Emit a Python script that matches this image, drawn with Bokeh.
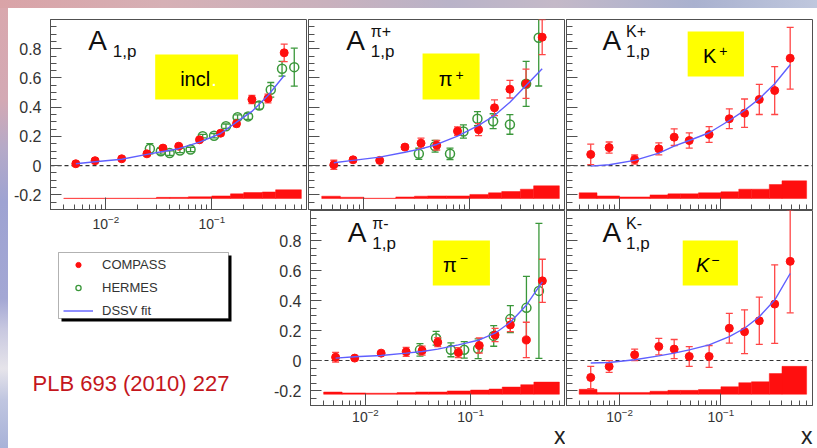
from bokeh.plotting import figure
from bokeh.layouts import row, column
from bokeh.models import (Range1d, LinearScale, LogTicker, FixedTicker,
                          CustomJSTickFormatter, Span, Label, BoxAnnotation,
                          Legend, LegendItem, Div, Title)
from bokeh.embed import file_html
from bokeh.resources import INLINE
import math

# ---------------- data ----------------
# COMPASS x bins (mean x) and the bin edges used for the systematic bands
x_compass = [0.0052, 0.0079, 0.0141, 0.0244, 0.0346, 0.0487, 0.0765, 0.121, 0.171, 0.239, 0.339, 0.482]
syst_edges = [0.004, 0.006, 0.01, 0.02, 0.03, 0.04, 0.06, 0.1, 0.15, 0.2, 0.3, 0.4, 0.7]
# HERMES x values
x_hermes_incl = [0.026, 0.033, 0.040, 0.050, 0.063, 0.082, 0.105, 0.136, 0.175, 0.22, 0.28, 0.36, 0.46, 0.60]
x_hermes_sidis = [0.033, 0.047, 0.065, 0.087, 0.118, 0.166, 0.239, 0.34, 0.447]

# inclusive A1p
incl_compass = [0.013, 0.034, 0.047, 0.081, 0.12, 0.133, 0.177, 0.222, 0.287, 0.453, 0.46, 0.772]
incl_compass_err = [0.01, 0.01, 0.01, 0.012, 0.012, 0.012, 0.012, 0.015, 0.02, 0.028, 0.03, 0.06]
incl_hermes = [0.116, 0.099, 0.086, 0.104, 0.111, 0.202, 0.205, 0.27, 0.332, 0.337, 0.412, 0.519, 0.663, 0.674]
incl_hermes_err = [0.035, 0.02, 0.015, 0.015, 0.015, 0.012, 0.015, 0.015, 0.015, 0.02, 0.025, 0.05, 0.05, 0.13]
incl_fit = [0.013, 0.027, 0.044, 0.077, 0.097, 0.116, 0.161, 0.22, 0.298, 0.371, 0.48, 0.617]
incl_syst = [0.002, 0.002, 0.002, 0.002, 0.008, 0.008, 0.012, 0.018, 0.032, 0.041, 0.045, 0.06]

# pi+ A1p
pip_compass = [0.006, 0.04, 0.036, 0.127, 0.154, 0.14, 0.236, 0.246, 0.396, 0.523, 0.56, 0.879]
pip_compass_err = [0.031, 0.012, 0.012, 0.015, 0.035, 0.033, 0.029, 0.041, 0.054, 0.06, 0.1, 0.12]
pip_hermes = [0.081, 0.133, 0.081, 0.234, 0.321, 0.304, 0.282, 0.56, 0.875]
pip_hermes_err = [0.038, 0.04, 0.039, 0.045, 0.048, 0.051, 0.067, 0.154, 0.33]
pip_fit = [0.02, 0.036, 0.058, 0.092, 0.115, 0.145, 0.202, 0.275, 0.343, 0.434, 0.549, 0.663]
pip_syst = [0.016, 0.009, 0.002, 0.011, 0.016, 0.018, 0.018, 0.028, 0.039, 0.048, 0.064, 0.087]

# K+ A1p
kp_compass = [0.077, 0.124, 0.042, 0.115, 0.195, 0.172, 0.213, 0.321, 0.359, 0.453, 0.514, 0.735]
kp_compass_err = [0.07, 0.038, 0.031, 0.041, 0.057, 0.052, 0.054, 0.068, 0.097, 0.103, 0.164, 0.211]
kp_fit = [-0.003, 0.006, 0.036, 0.086, 0.134, 0.172, 0.225, 0.309, 0.378, 0.458, 0.56, 0.69]
kp_syst = [0.039, 0.018, 0.011, 0.025, 0.032, 0.032, 0.039, 0.046, 0.064, 0.064, 0.096, 0.121]

# pi- A1p
pim_compass = [0.022, 0.016, 0.049, 0.058, 0.066, 0.122, 0.053, 0.1, 0.17, 0.237, 0.137, 0.531]
pim_compass_err = [0.032, 0.01, 0.01, 0.03, 0.03, 0.03, 0.033, 0.05, 0.044, 0.044, 0.118, 0.144]
pim_hermes = [0.071, 0.148, 0.071, 0.071, 0.078, 0.164, 0.276, 0.351, 0.464]
pim_hermes_err = [0.042, 0.046, 0.046, 0.055, 0.066, 0.069, 0.09, 0.21, 0.45]
pim_fit = [0.016, 0.025, 0.033, 0.049, 0.06, 0.076, 0.104, 0.137, 0.182, 0.255, 0.369, 0.524]
pim_syst = [0.015, 0.009, 0.007, 0.011, 0.015, 0.015, 0.022, 0.028, 0.035, 0.048, 0.064, 0.081]

# K- A1p
km_compass = [-0.113, -0.04, 0.038, 0.093, 0.076, 0.027, 0.027, 0.215, 0.192, 0.265, 0.376, 0.661]
km_compass_err = [0.074, 0.039, 0.038, 0.055, 0.064, 0.066, 0.073, 0.099, 0.146, 0.158, 0.262, 0.343]
km_fit = [-0.017, -0.013, 0.005, 0.031, 0.049, 0.071, 0.104, 0.159, 0.215, 0.292, 0.403, 0.58]
km_syst = [0.033, 0.012, 0.012, 0.02, 0.026, 0.026, 0.031, 0.05, 0.077, 0.083, 0.138, 0.186]

y_tick_values = [-0.2, 0.0, 0.2, 0.4, 0.6, 0.8]
legend_labels = ["COMPASS", "HERMES", "DSSV fit"]
reference_text = "PLB 693 (2010) 227"
x_title = "x"

# ---------------- style ----------------
FONT = "Liberation Sans"
FRAME = "#505050"
RED = "#ff0f0f"
RED_ERR = "#ff4646"
GREEN = "#3a973a"
BLUE = "#5f5fff"
YELLOW = "#ffff00"

X_RANGE = (0.003, 0.8)
Y_RANGE = (-0.3, 1.0)
SYST_BASE = -0.225
y_minor = [round(-0.3 + 0.05 * i, 2) for i in range(27)]


def blank_labels(ax):
    ax.formatter = CustomJSTickFormatter(code="return '';")
    ax.major_label_text_font_size = "1px"
    ax.major_label_standoff = 0


def make_panel(width, height, borders, show_x, show_y, with_title=False):
    left, right, top, bottom = borders
    p = figure(width=width, height=height, x_axis_type="log",
               x_range=Range1d(*X_RANGE), y_range=Range1d(*Y_RANGE),
               toolbar_location=None, output_backend="svg", title=None,
               min_border_left=left, min_border_right=right,
               min_border_top=top, min_border_bottom=bottom)
    p.grid.visible = False
    p.outline_line_color = FRAME
    p.background_fill_color = "white"
    p.border_fill_color = "white"
    xa, ya = p.xaxis[0], p.yaxis[0]
    xa.ticker = LogTicker(num_minor_ticks=10)
    ya.ticker = FixedTicker(ticks=y_tick_values, minor_ticks=y_minor)
    for ax in (xa, ya):
        ax.axis_line_color = FRAME
        ax.major_tick_line_color = FRAME
        ax.minor_tick_line_color = FRAME
        ax.major_tick_out = 0
        ax.minor_tick_out = 0
        ax.major_label_text_font = FONT
        ax.major_label_text_color = "#333333"
    xa.major_tick_in, xa.minor_tick_in = 12, 5
    ya.major_tick_in, ya.minor_tick_in = 11, 6
    ya.formatter = CustomJSTickFormatter(
        code="return Math.abs(tick) < 1e-9 ? '0' : tick.toFixed(1);")
    ya.major_label_text_font_size = "16px"
    ya.major_label_standoff = 9
    xa.major_label_text_font_size = "14px"
    xa.major_label_standoff = 2
    if not show_x:
        blank_labels(xa)
    if not show_y:
        blank_labels(ya)
    if with_title:
        # axis title, right-aligned with the frame, under the tick labels
        p.add_layout(Title(text=x_title, align="right", standoff=-7,
                           text_font=FONT, text_font_size="23px",
                           text_font_style="normal", text_color="#222222"), "below")
    return p


def draw_points(p, xs, ys, errs, color, bar_color, hollow):
    lo = [y - e for y, e in zip(ys, errs)]
    hi = [y + e for y, e in zip(ys, errs)]
    p.segment(x0=xs, y0=lo, x1=xs, y1=hi, line_color=bar_color, line_width=1.3)
    p.scatter(xs, lo, marker="dash", size=7, line_color=bar_color, line_width=1.3)
    p.scatter(xs, hi, marker="dash", size=7, line_color=bar_color, line_width=1.3)
    if hollow:
        p.scatter(xs, ys, marker="circle", size=9, fill_alpha=0,
                  line_color=color, line_width=1.5)
    else:
        p.scatter(xs, ys, marker="circle", size=8, fill_color=color,
                  line_color=color)


def draw_panel(p, syst, fit, compass, compass_err, hermes_x=None, hermes=None, hermes_err=None):
    p.quad(left=syst_edges[:-1], right=syst_edges[1:], bottom=SYST_BASE,
           top=[SYST_BASE + s for s in syst], fill_color=RED,
           line_color=RED, line_width=0.8, line_alpha=0.6)
    p.add_layout(Span(location=0, dimension="width", line_color="#333333",
                      line_dash="4 3", line_width=1.2, level="underlay"))
    if hermes is not None:
        draw_points(p, hermes_x, hermes, hermes_err, GREEN, GREEN, True)
    draw_points(p, x_compass, compass, compass_err, RED, RED_ERR, False)
    p.line(x_compass, fit, line_color=BLUE, line_width=1.4)


def title_text(p, sup):
    p.add_layout(Label(x=0.0068, y=0.855, text="A", text_font=FONT,
                       text_font_size="28px", text_color="#111111",
                       text_baseline="alphabetic"))
    p.add_layout(Label(x=0.0116, y=0.778, text="1,p", text_font=FONT,
                       text_font_size="17px", text_color="#111111",
                       text_baseline="alphabetic"))
    if sup:
        p.add_layout(Label(x=0.0116, y=0.915, text=sup, text_font=FONT,
                           text_font_size="16px", text_color="#111111",
                           text_baseline="alphabetic"))


def tag_box(p, box, main, main_dx, sup, sup_dx, sup_dy, italic=False, sup_color="#000000",
            sup_size="14px"):
    x0, x1, y0, y1 = box
    p.add_layout(BoxAnnotation(left=x0, right=x1, bottom=y0, top=y1,
                               fill_color=YELLOW, fill_alpha=1, line_color=None))
    cx = (x0 * x1) ** 0.5
    cy = 0.5 * (y0 + y1)
    p.add_layout(Label(x=cx, y=cy, text=main, text_font=FONT, text_font_size="20px",
                       text_font_style="italic" if italic else "normal",
                       text_align="right", text_baseline="alphabetic",
                       x_offset=main_dx, y_offset=-2, text_color="#000000"))
    p.add_layout(Label(x=cx, y=cy, text=sup, text_font=FONT, text_font_size=sup_size,
                       text_align="left", text_baseline="alphabetic",
                       x_offset=sup_dx, y_offset=sup_dy, text_color=sup_color))


# ---------------- top row ----------------
p_incl = make_panel(299, 202, (42, 0, 11, 1), False, True)
draw_panel(p_incl, incl_syst, incl_fit, incl_compass, incl_compass_err,
           x_hermes_incl, incl_hermes, incl_hermes_err)
title_text(p_incl, None)
tag_box(p_incl, (0.0292, 0.177, 0.453, 0.761), "incl", 13.5, ".", 14.5, -2,
        sup_color="#ffffff", sup_size="20px")

p_pip = make_panel(258, 202, (1, 0, 11, 1), False, False)
draw_panel(p_pip, pip_syst, pip_fit, pip_compass, pip_compass_err,
           x_hermes_sidis, pip_hermes, pip_hermes_err)
title_text(p_pip, "π+")
tag_box(p_pip, (0.0358, 0.1236, 0.453, 0.767), "π", 1.5, "+", 4.5, 2)

p_kp = make_panel(252, 202, (1, 5, 11, 1), False, False)
draw_panel(p_kp, kp_syst, kp_fit, kp_compass, kp_compass_err)
title_text(p_kp, "K+")
tag_box(p_kp, (0.047, 0.1687, 0.61, 0.918), "K", 0.5, "+", 3.5, 3)

# ---------------- bottom row ----------------
p_pim = make_panel(295, 238, (39, 0, 0, 43), True, True, with_title=True)
draw_panel(p_pim, pim_syst, pim_fit, pim_compass, pim_compass_err,
           x_hermes_sidis, pim_hermes, pim_hermes_err)
title_text(p_pim, "π-")
tag_box(p_pim, (0.0437, 0.1528, 0.5, 0.8), "π", -4.5, "−", -1.5, 5)

p_km = make_panel(252, 238, (1, 5, 0, 43), True, False, with_title=True)
draw_panel(p_km, km_syst, km_fit, km_compass, km_compass_err)
title_text(p_km, "K-")
tag_box(p_km, (0.042, 0.147, 0.5, 0.8), "K", -1, "−", 1, 3.5, italic=True)

# ---------------- legend cell (also carries the x labels of the inclusive panel) ----------------
ppd = 257 / math.log10(X_RANGE[1] / X_RANGE[0])      # pixels per decade of the inclusive panel
leg_lo = X_RANGE[0] * 10 ** (-42 / ppd)
leg_hi = X_RANGE[0] * 10 ** (220 / ppd)
leg = figure(width=262, height=238, x_axis_type="log", x_range=Range1d(leg_lo, leg_hi),
             y_range=Range1d(0, 213), x_axis_location="above", y_axis_location=None,
             toolbar_location=None, output_backend="svg", title=None,
             min_border_left=0, min_border_right=0, min_border_top=25, min_border_bottom=0)
leg.grid.visible = False
leg.outline_line_color = None
leg.background_fill_color = "white"
leg.border_fill_color = "white"
leg.extra_x_ranges = {"px": Range1d(0, 262)}
leg.extra_x_scales = {"px": LinearScale()}
lax = leg.xaxis[0]
lax.ticker = LogTicker(num_minor_ticks=10)
lax.axis_line_color = None
lax.major_tick_line_color = None
lax.minor_tick_line_color = None
lax.major_label_standoff = 1
lax.major_label_text_font = FONT
lax.major_label_text_font_size = "14px"
lax.major_label_text_color = "#333333"

leg.add_layout(BoxAnnotation(left=53, right=223, bottom=127, top=193, x_range_name="px",
                             fill_color="black", fill_alpha=1, line_color=None))
leg.add_layout(BoxAnnotation(left=50, right=220, bottom=130, top=196, x_range_name="px",
                             fill_color="white", fill_alpha=1, line_color="black",
                             line_width=1))
# key glyphs: one point each, placed outside the visible ranges
r_c = leg.scatter(x=[1e-6], y=[-100], marker="circle", size=5, fill_color=RED, line_color=RED)
r_h = leg.scatter(x=[1e-6], y=[-100], marker="circle", size=6, fill_alpha=0,
                  line_color=GREEN, line_width=1.3)
r_f = leg.line(x=[1e-6, 2e-6], y=[-100, -100], line_color=BLUE, line_width=1.4)
legend = Legend(items=[LegendItem(label=legend_labels[0], renderers=[r_c]),
                       LegendItem(label=legend_labels[1], renderers=[r_h]),
                       LegendItem(label=legend_labels[2], renderers=[r_f])],
                location=(55, 128), padding=2, spacing=3, margin=0,
                label_height=20, glyph_height=13, glyph_width=30, label_standoff=9,
                label_text_font=FONT, label_text_font_size="13px",
                label_text_color="#333333", border_line_color=None,
                background_fill_alpha=0)
leg.add_layout(legend)
leg.add_layout(Label(x=24, y=65, x_range_name="px", text=reference_text, text_font=FONT,
                     text_font_size="22px", text_color="#c4161c",
                     text_baseline="alphabetic"))

# ---------------- page ----------------
top_strip = Div(text="", width=817, height=8, margin=0, styles={
    "background": "linear-gradient(90deg, #d9a3a7 0%, #d6b0b5 20%, #c9b1bd 40%, "
                  "#b9b3c8 55%, #c4b9c8 68%, #a9b1cf 85%, #bfc7dd 100%)"})
left_strip = Div(text="", width=8, height=440, margin=0, styles={
    "background": "linear-gradient(180deg, #d9a8ae 0%, #d3a9b4 21%, #b5aac8 32%, "
                  "#9ea3d2 44%, #a3a7d4 66%, #c8c8e0 73%, #e6e4ea 82%, #c0c6e0 89%, "
                  "#a8b2d8 100%)"})

grid = column(row(p_incl, p_pip, p_kp), row(column(leg), p_pim, p_km))
page = column(top_strip, row(left_strip, grid))

open("out.html", "w").write(file_html(page, INLINE))
